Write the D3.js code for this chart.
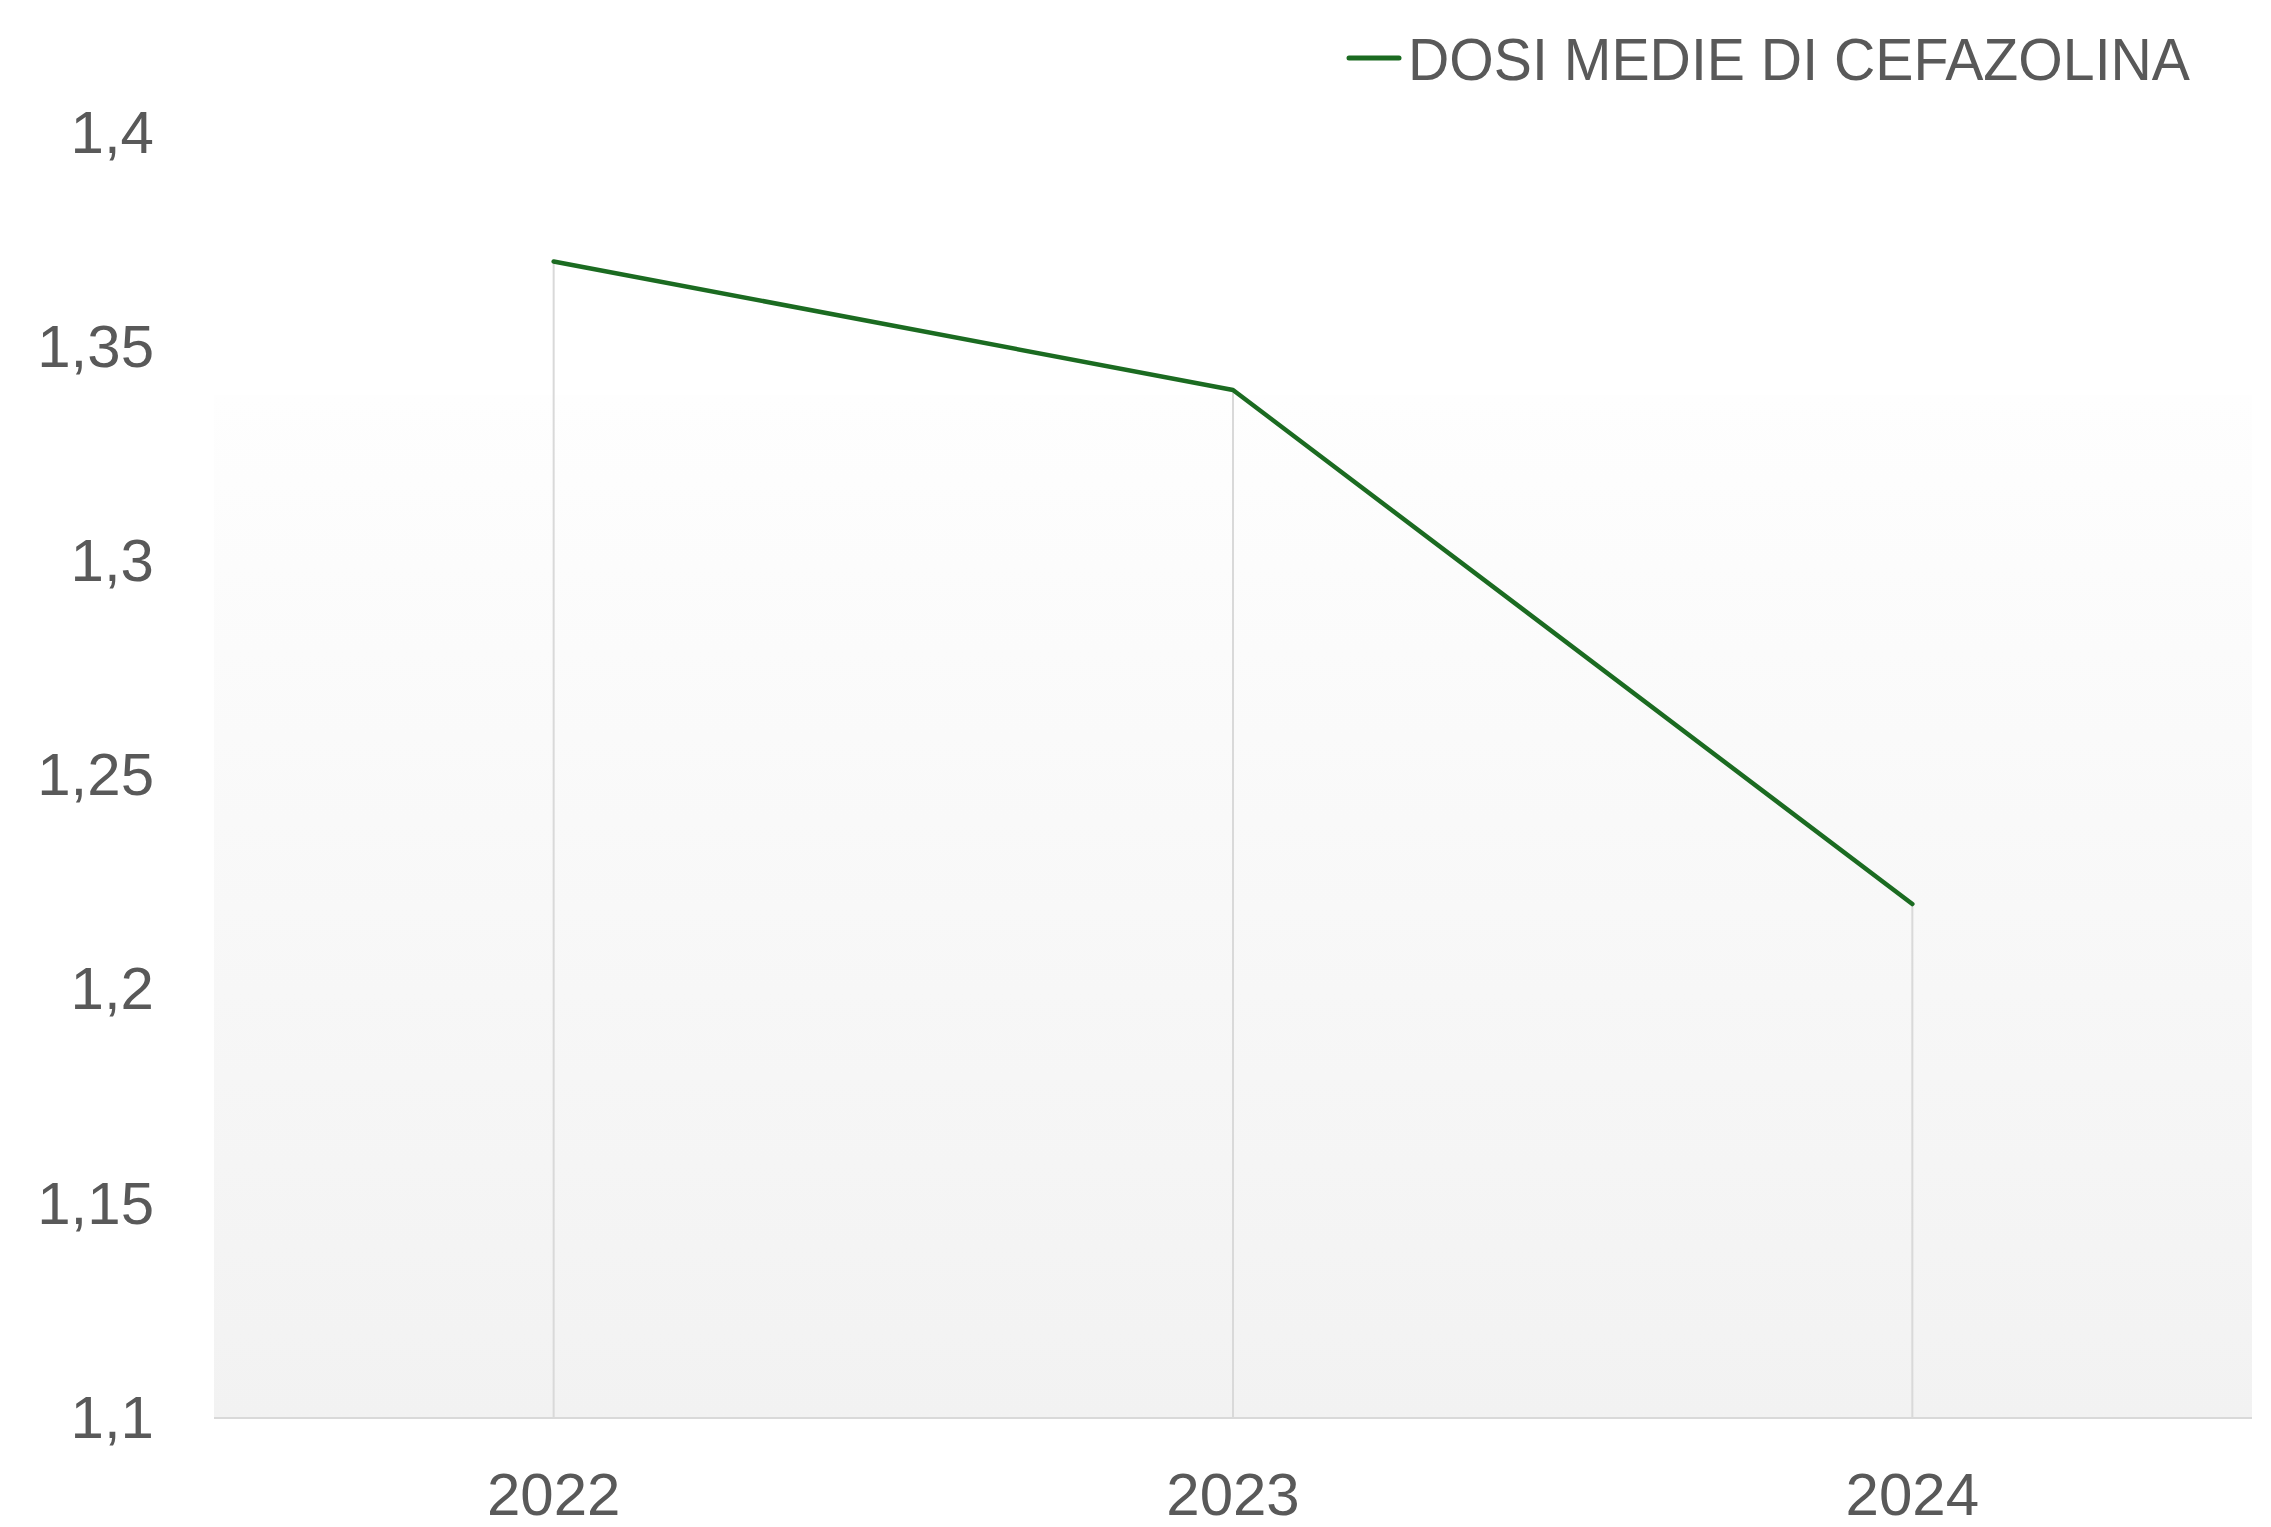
<!DOCTYPE html>
<html>
<head>
<meta charset="utf-8">
<script src="https://cdn.jsdelivr.net/npm/d3@7"></script>
<style>
  body { margin: 0; background: #fff; }
  text { font-family: "Liberation Sans", Arial, sans-serif; fill: #595959; }
</style>
</head>
<body>
<script>

var years = ["2022", "2023", "2024"];
var doses = [1.37, 1.34, 1.22];
var yTicks = [1.1, 1.15, 1.2, 1.25, 1.3, 1.35, 1.4];
var seriesName = "DOSI MEDIE DI CEFAZOLINA";

var width = 2271,
    height = 1527;
var margin = {top: 133, right: 19, bottom: 109, left: 214};
var fillTop = 395; // where the plot area fill starts

var svg = d3.select("body").append("svg")
    .attr("width", width)
    .attr("height", height);

var x = d3.scaleBand()
  .domain(years)
  .range([margin.left, width - margin.right]);

var y = d3.scaleLinear()
  .domain([1.1, 1.4])
  .range([height - margin.bottom, margin.top]);

// plot area fill (light gradient)
var grad = svg.append("defs").append("linearGradient")
    .attr("id", "bg")
    .attr("x1", 0).attr("y1", 0).attr("x2", 0).attr("y2", 1);
grad.append("stop").attr("offset", "0%").attr("stop-color", "#fefefe");
grad.append("stop").attr("offset", "100%").attr("stop-color", "#f2f2f2");

svg.append("rect")
  .attr("x", margin.left)
  .attr("y", fillTop)
  .attr("width", width - margin.right - margin.left)
  .attr("height", y(1.1) - fillTop)
  .attr("fill", "url(#bg)");

// drop lines from each point to the axis
svg.selectAll(".drop")
    .data(years)
    .enter().append("line")
    .attr("class", "drop")
    .attr("x1", function(d) { return x(d) + x.bandwidth() / 2; })
    .attr("x2", function(d) { return x(d) + x.bandwidth() / 2; })
    .attr("y1", function(d, i) { return y(doses[i]); })
    .attr("y2", y(1.1))
    .attr("stroke", "#d9d9d9")
    .attr("stroke-width", 2);

// baseline
svg.append("line")
  .attr("x1", margin.left)
  .attr("x2", width - margin.right)
  .attr("y1", y(1.1))
  .attr("y2", y(1.1))
  .attr("stroke", "#d9d9d9")
  .attr("stroke-width", 2);

// y axis labels
var yAxis = d3.axisLeft(y)
  .tickValues(yTicks)
  .tickSize(0)
  .tickPadding(0)
  .tickFormat(function(d) { return String(+d.toFixed(2)).replace(".", ","); });

var gy = svg.append("g")
  .attr("transform", "translate(" + 154 + ",0)")
  .call(yAxis);
gy.select(".domain").remove();
gy.selectAll("text")
  .attr("font-size", 60)
  .attr("font-family", null)
  .attr("fill", "#595959");

// x axis labels
var xAxis = d3.axisBottom(x).tickSize(0).tickPadding(0);
var gx = svg.append("g")
  .attr("transform", "translate(0," + (y(1.1) + 54) + ")")
  .call(xAxis);
gx.select(".domain").remove();
gx.selectAll("text")
  .attr("font-size", 60)
  .attr("font-family", null)
  .attr("fill", "#595959");

// line
var line = d3.line()
  .x(function(d, i) { return x(years[i]) + x.bandwidth() / 2; })
  .y(function(d) { return y(d); });

svg.append("path")
  .datum(doses)
  .attr("d", line)
  .attr("fill", "none")
  .attr("stroke", "#1b6b21")
  .attr("stroke-width", 4.5)
  .attr("stroke-linejoin", "round")
  .attr("stroke-linecap", "round");

// legend
var legend = svg.append("g").attr("transform", "translate(1347,58)");
legend.append("line")
  .attr("x1", 2).attr("x2", 52)
  .attr("y1", 0).attr("y2", 0)
  .attr("stroke", "#1b6b21")
  .attr("stroke-width", 5)
  .attr("stroke-linecap", "round");
legend.append("text")
  .attr("x", 61)
  .attr("y", 22)
  .attr("font-size", 60)
  .attr("textLength", 782)
  .attr("lengthAdjust", "spacingAndGlyphs")
  .text(seriesName);

</script>
</body>
</html>
